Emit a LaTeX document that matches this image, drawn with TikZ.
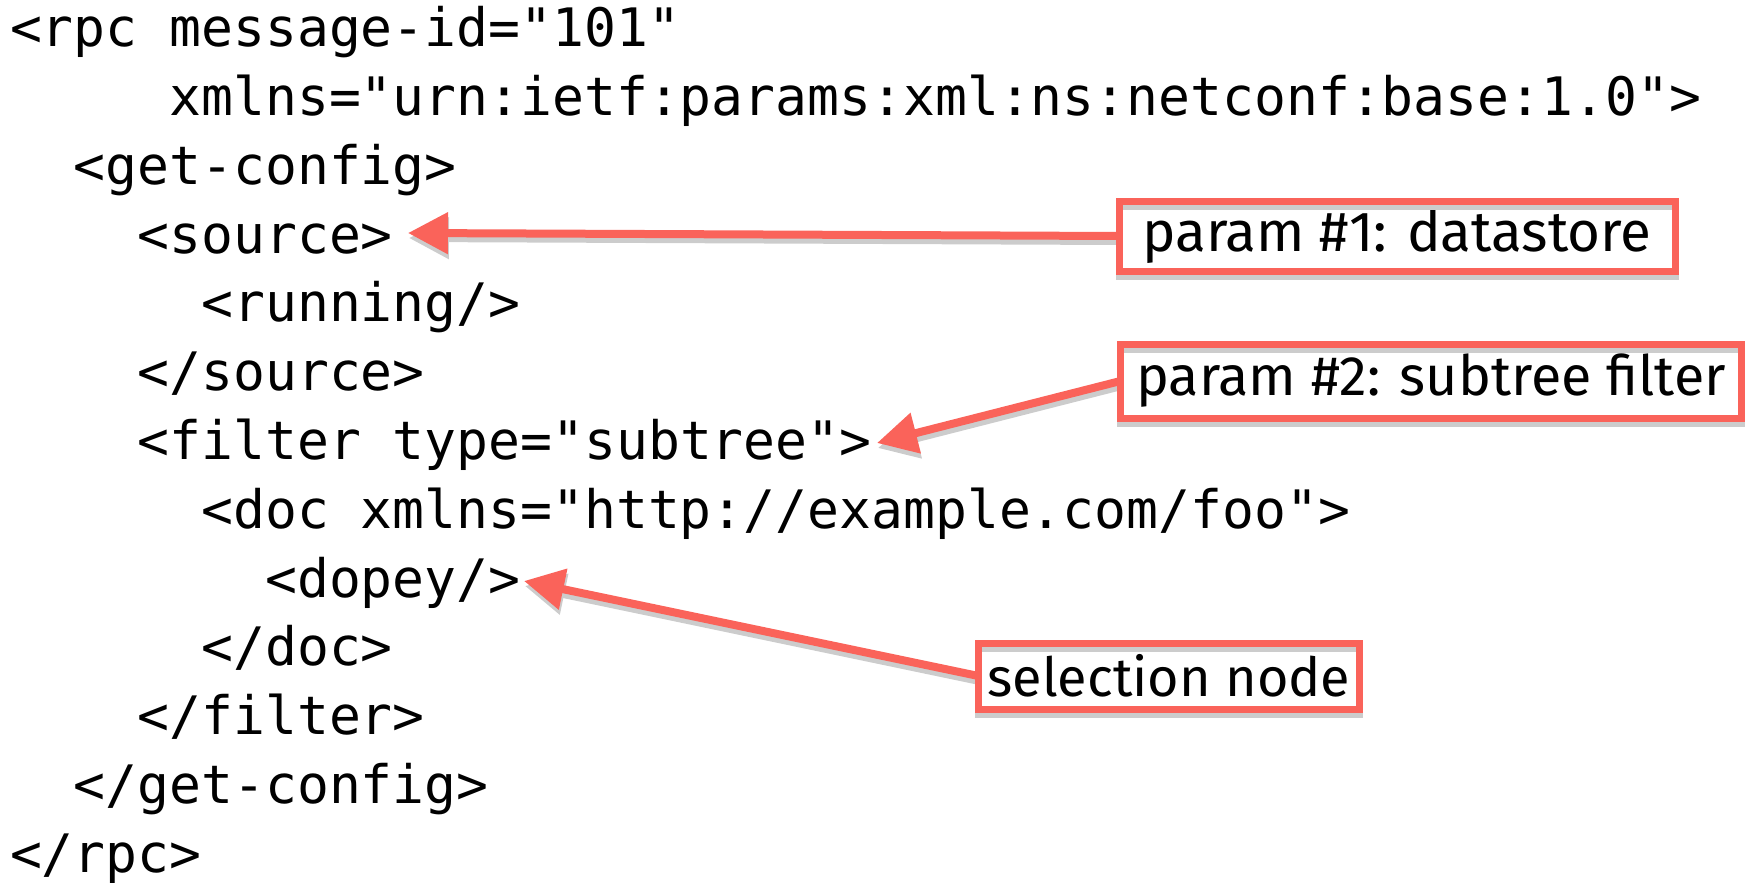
\documentclass[tikz,border=0pt]{standalone}
\usepackage{fontspec}
\setmonofont{DejaVu Sans Mono}
\setsansfont{Fira Sans}
\usetikzlibrary{arrows.meta}
\definecolor{callout}{RGB}{250,99,90}
\definecolor{shade}{RGB}{204,204,204}
\pgfdeclarelayer{behind}
\pgfsetlayers{behind,main}
\begin{document}
\begin{tikzpicture}[x=1pt,y=-1pt,
  code/.style={anchor=base west, inner sep=0pt, outer sep=0pt, font=\fontsize{53}{60}\selectfont\ttfamily},
  callbox/.style={fill=white, inner sep=0pt, outer sep=0pt, font=\fontsize{55}{60}\selectfont\sffamily},
  boxline/.style={draw=callout, line width=7pt},
  boxshadow/.style={draw=shade, line width=7pt, transform canvas={shift={(0,5)}}},
  pointer/.style={draw=callout, line width=8pt, -{Triangle[length=40pt,width=40pt]}},
  pshadow/.style={draw=shade, line width=8pt, -{Triangle[length=40pt,width=40pt]}, transform canvas={shift={(1,5)}}}]
\useasboundingbox (0,0) rectangle (1748,883);
% code lines (advance 31.9 per character)
\node[code] (l1)  at (10,46.7)     {<rpc message-id="101"};
\node[code] (l2)  at (169.5,115.5) {xmlns="urn:ietf:params:xml:ns:netconf:base:1.0">};
\node[code] (l3)  at (73.8,184.3)  {<get-config>};
\node[code] (l4)  at (137.6,253.1) {<source>};
\node[code] (l5)  at (201.4,321.9) {<running/>};
\node[code] (l6)  at (137.6,390.7) {</source>};
\node[code] (l7)  at (137.6,459.5) {<filter type="subtree">};
\node[code] (l8)  at (201.4,528.3) {<doc xmlns="http://example.com/foo">};
\node[code] (l9)  at (265.2,597.1) {<dopey/>};
\node[code] (l10) at (201.4,665.9) {</doc>};
\node[code] (l11) at (137.6,734.7) {</filter>};
\node[code] (l12) at (73.8,803.5)  {</get-config>};
\node[code] (l13) at (10,872.3)    {</rpc>};
% callout boxes
\node[callbox, font=\fontsize{56.5}{60}\selectfont\sffamily, minimum width=556pt, minimum height=70pt] (b1) at (1397,236) {param \#1: datastore};
\node[callbox, font=\fontsize{55.6}{60}\selectfont\sffamily, minimum width=621pt, minimum height=74pt] (b2) at (1431,381) {param \#2: subtree filter};
\node[callbox, font=\fontsize{54}{60}\selectfont\sffamily, minimum width=381pt, minimum height=66pt] (b3) at (1169,676) {selection node};
\foreach \b in {b1,b2,b3}{
  \draw[boxshadow] (\b.north west) rectangle (\b.south east);
  \draw[boxline] (\b.north west) rectangle (\b.south east);
}
% arrow tips
\coordinate (t1) at (408,233);
\coordinate (t2) at (877,443);
\coordinate (t3) at (524,581);
\begin{pgfonlayer}{behind}
  \draw[pshadow] (b1.west) -- (t1);
  \draw[pshadow] (b2.west) -- (t2);
  \draw[pshadow] (b3.west) -- (t3);
  \draw[pointer] (b1.west) -- (t1);
  \draw[pointer] (b2.west) -- (t2);
  \draw[pointer] (b3.west) -- (t3);
\end{pgfonlayer}
\end{tikzpicture}
\end{document}
